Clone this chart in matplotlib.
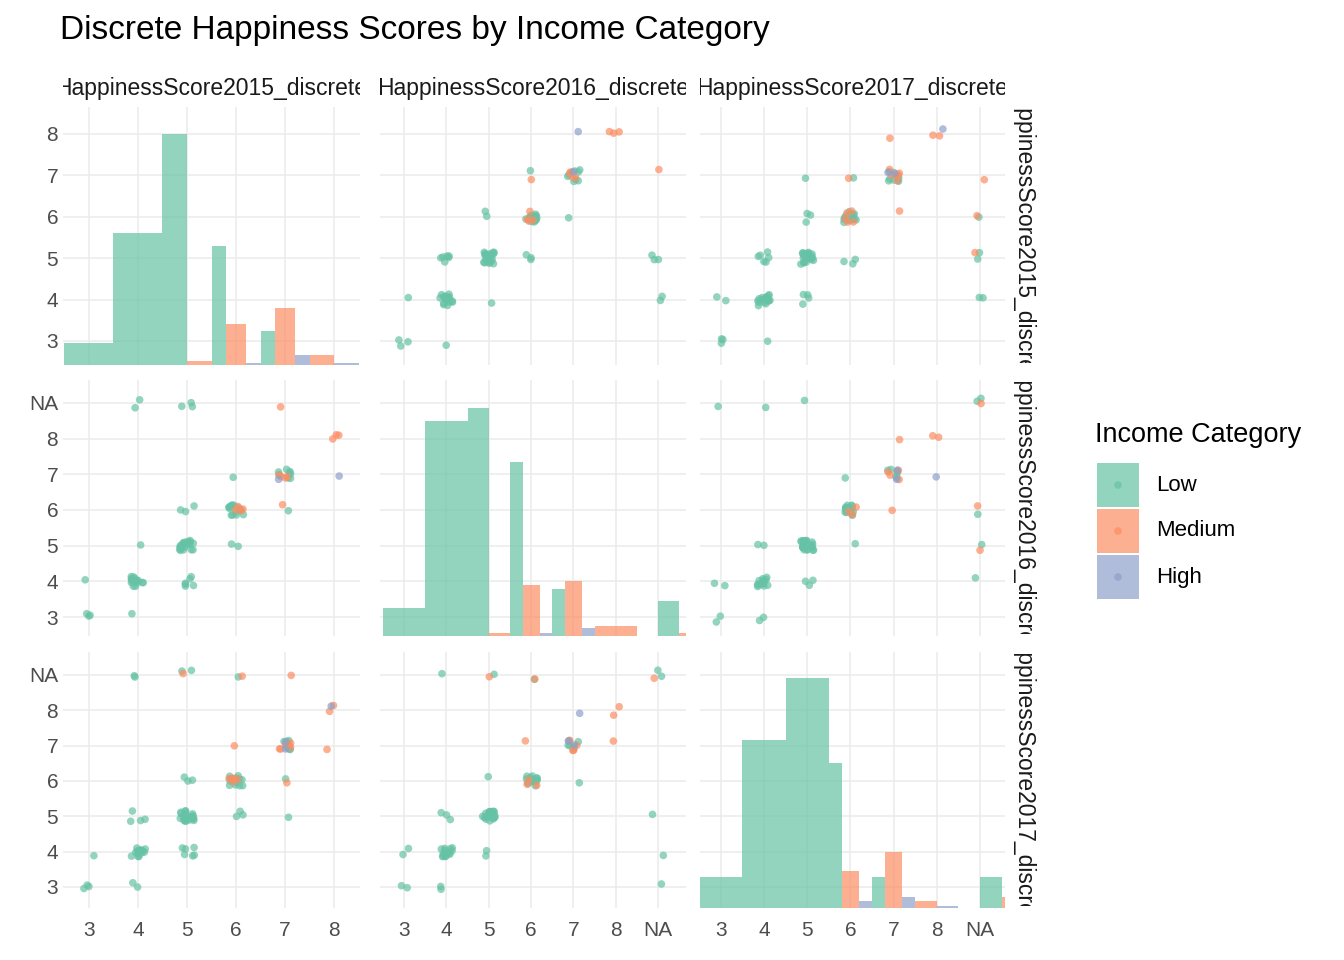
import numpy as np
import matplotlib.pyplot as plt
from matplotlib.patches import Rectangle

plt.rcParams['font.family'] = ['Liberation Sans', 'DejaVu Sans']

W, H = 1344, 960
cols = {'Low': '#66C2A5', 'Medium': '#FC8D62', 'High': '#8DA0CB'}
names = ['HappinessScore2015_discrete', 'HappinessScore2016_discrete', 'HappinessScore2017_discrete']

# (x, y, category, count) per pair of years
pair_15_16 = [(3,3,'Low',3),(3,4,'Low',1),(4,4,'Low',15),(4,5,'Low',1),(4,3,'Low',1),(4,9,'Low',2),
              (5,5,'Low',20),(5,4,'Low',6),(5,6,'Low',3),(5,9,'Low',3),
              (6,6,'Low',15),(6,6,'Medium',4),(6,5,'Low',2),(6,7,'Low',1),
              (7,7,'Low',8),(7,7,'Medium',4),(7,7,'High',1),(7,6,'Medium',1),(7,6,'Low',1),(7,9,'Medium',1),
              (8,8,'Medium',3),(8,7,'High',1)]
pair_15_17 = [(3,3,'Low',3),(3,4,'Low',1),(4,4,'Low',15),(4,5,'Low',4),(4,3,'Low',2),(4,9,'Low',2),
              (5,5,'Low',22),(5,4,'Low',6),(5,6,'Low',3),(5,9,'Low',2),(5,9,'Medium',1),
              (6,6,'Low',14),(6,6,'Medium',5),(6,5,'Low',3),(6,7,'Medium',1),(6,9,'Low',1),(6,9,'Medium',1),
              (7,7,'Low',8),(7,7,'Medium',6),(7,7,'High',2),(7,6,'Low',1),(7,6,'Medium',1),(7,5,'Low',1),(7,9,'Medium',1),
              (8,8,'Medium',2),(8,8,'High',1),(8,7,'Medium',1)]
pair_16_17 = [(3,3,'Low',2),(3,4,'Low',2),(4,4,'Low',14),(4,5,'Low',3),(4,3,'Low',2),(4,9,'Low',1),
              (5,5,'Low',22),(5,4,'Low',2),(5,6,'Low',1),(5,9,'Low',1),(5,9,'Medium',1),
              (6,6,'Low',15),(6,6,'Medium',3),(6,7,'Medium',1),(6,9,'Low',1),(6,9,'Medium',1),
              (7,7,'Low',6),(7,7,'Medium',4),(7,7,'High',2),(7,6,'Low',1),(7,8,'High',1),
              (8,8,'Medium',2),(8,7,'Medium',1),
              (9,9,'Low',2),(9,9,'Medium',1),(9,5,'Low',1),(9,4,'Low',1),(9,3,'Low',1)]

# histogram bars on diagonal: (left, right, top, category)
hist_2015 = [(2.5,3.5,2.95,'Low'),(3.5,4.5,5.6,'Low'),(4.5,5.0,8.0,'Low'),(5.5,5.8,5.3,'Low'),(6.5,6.8,3.25,'Low'),
             (5.0,5.5,2.52,'Medium'),(5.8,6.2,3.4,'Medium'),(6.8,7.2,3.8,'Medium'),(7.5,8.0,2.65,'Medium'),
             (6.2,6.5,2.47,'High'),(7.2,7.5,2.65,'High'),(8.0,8.5,2.46,'High')]
hist_2016 = [(2.5,3.5,3.25,'Low'),(3.5,4.5,8.5,'Low'),(4.5,5.0,8.85,'Low'),(5.5,5.8,7.35,'Low'),(6.5,6.8,3.8,'Low'),(9.0,9.5,3.45,'Low'),
             (5.0,5.5,2.55,'Medium'),(5.8,6.2,3.9,'Medium'),(6.8,7.2,4.0,'Medium'),(7.5,8.5,2.75,'Medium'),(9.5,9.7,2.55,'Medium'),
             (6.2,6.5,2.55,'High'),(7.2,7.5,2.7,'High')]
hist_2017 = [(2.5,3.5,3.28,'Low'),(3.5,4.5,7.15,'Low'),(4.5,5.5,8.9,'Low'),(5.5,5.8,6.5,'Low'),(6.5,6.8,3.28,'Low'),(9.0,9.5,3.28,'Low'),
             (5.8,6.2,3.45,'Medium'),(6.8,7.2,4.0,'Medium'),(7.5,8.0,2.6,'Medium'),(9.5,9.7,2.7,'Medium'),
             (6.2,6.5,2.6,'High'),(7.2,7.5,2.7,'High'),(8.0,8.5,2.45,'High')]
hists = [hist_2015, hist_2016, hist_2017]

ticks = [[3,4,5,6,7,8], [3,4,5,6,7,8,9], [3,4,5,6,7,8,9]]
labels = [['3','4','5','6','7','8'], ['3','4','5','6','7','8','NA'], ['3','4','5','6','7','8','NA']]
xlims = [(2.47,8.53), (2.43,9.66), (2.52,9.58)]
ylims = [(2.42,8.65), (2.47,9.64), (2.40,9.65)]
colpx = [(63,360), (380,686), (700,1005)]
rowpx = [(107,365), (380,636), (652,908)]

fig = plt.figure(figsize=(W/100, H/100), dpi=100)
rng = np.random.default_rng(3)
grey = '#4D4D4D'

def px_axes(x0, x1, y0, y1):
    return fig.add_axes([x0/W, 1-y1/H, (x1-x0)/W, (y1-y0)/H])

def scatter(ax, table, flip):
    for x, y, cat, n in table:
        if flip:
            x, y = y, x
        xs = x + rng.uniform(-0.15, 0.15, n)
        ys = y + rng.uniform(-0.15, 0.15, n)
        ax.scatter(xs, ys, s=30, color=cols[cat], alpha=0.7, edgecolor='none', zorder=3)

pairs = {(0,1): pair_15_16, (0,2): pair_15_17, (1,2): pair_16_17}

for r in range(3):
    for c in range(3):
        ax = px_axes(colpx[c][0], colpx[c][1], rowpx[r][0], rowpx[r][1])
        ax.set_xlim(xlims[c]); ax.set_ylim(ylims[r])
        ax.set_xticks(ticks[c]); ax.set_yticks(ticks[r])
        ax.grid(color='#EBEBEB', lw=1.1, zorder=0)
        ax.set_axisbelow(True)
        for s in ax.spines.values():
            s.set_visible(False)
        ax.tick_params(axis='x', pad=9)
        ax.tick_params(length=0, labelsize=15, labelcolor=grey)
        ax.set_xticklabels(labels[c] if r == 2 else [])
        ax.set_yticklabels(labels[r] if c == 0 else [])
        if r == c:
            base = ylims[r][0]
            for l, rr, top, cat in hists[r]:
                ax.add_patch(Rectangle((l, base), rr-l, top-base, color=cols[cat], alpha=0.7, lw=0, zorder=2))
        elif r > c:
            scatter(ax, pairs[(c, r)], False)
        else:
            scatter(ax, pairs[(r, c)], True)

# strips
for c in range(3):
    sa = px_axes(colpx[c][0], colpx[c][1], 72, 104)
    sa.axis('off')
    sa.text(0.5, 0.5, names[c], ha='center', va='center', fontsize=16.5, color='#1A1A1A',
            transform=sa.transAxes, clip_on=True)
for r in range(3):
    sa = px_axes(1006, 1040, rowpx[r][0]+2, rowpx[r][1]-2)
    sa.axis('off')
    sa.text(0.5, 0.5, names[r], ha='center', va='center', rotation=270, fontsize=16.5,
            color='#1A1A1A', transform=sa.transAxes, clip_on=True)

fig.text(60/W, 1-30/H, 'Discrete Happiness Scores by Income Category', fontsize=24,
         ha='left', va='center', color='black')

# legend
fig.text(1095/W, 1-435/H, 'Income Category', fontsize=19.5, ha='left', va='center')
for i, cat in enumerate(['Low', 'Medium', 'High']):
    yc = 485 + i*46
    la = px_axes(1097, 1139, yc-22, yc+22)
    la.set_xlim(0, 1); la.set_ylim(0, 1); la.axis('off')
    la.add_patch(Rectangle((0, 0), 1, 1, color=cols[cat], alpha=0.7, lw=0))
    la.scatter([0.5], [0.5], s=30, color=cols[cat], alpha=0.7, edgecolor='none')
    fig.text(1156/W, 1-yc/H, cat, fontsize=16, ha='left', va='center')

fig.savefig('out.png', dpi=100, facecolor='white')
